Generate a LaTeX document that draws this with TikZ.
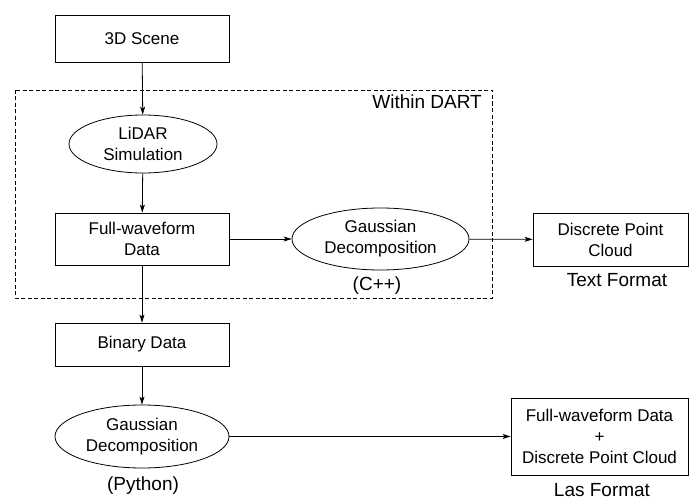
\documentclass[tikz,border=0pt]{standalone}
\usepackage{fontspec}
\setmainfont{Liberation Sans}
\usetikzlibrary{shapes.geometric,arrows.meta}

\tikzset{
  box/.style={draw, rectangle, line width=0.8pt, inner sep=0pt, align=center,
    font=\fontsize{17}{21}\selectfont},
  oval/.style={draw, ellipse, line width=0.8pt, inner sep=0pt, align=center,
    font=\fontsize{17}{21}\selectfont},
  flow/.style={line width=0.8pt, -{Stealth[length=8pt,width=5pt,inset=2pt]}},
  tag/.style={font=\fontsize{19}{23}\selectfont, inner sep=0pt}
}

\begin{document}
\begin{tikzpicture}[x=1pt, y=-1pt]
   \useasboundingbox (0,0) rectangle (689,500);
   \draw[line width=0.7pt, dash pattern=on 4pt off 2.5pt] (15,90) rectangle (492,298);
   \node (dart) [tag, anchor=north east] at (482,95) {Within DART};

   \node (scene) [box, minimum width=174pt, minimum height=47pt] at (142,38.5) {3D Scene};
   \node (lidar) [oval, minimum width=148pt, minimum height=58pt] at (143,144) {LiDAR\\Simulation};
   \node (fwd) [box, minimum width=174pt, minimum height=52pt] at (142,239) {Full-waveform\\Data};
   \node (gcpp) [oval, minimum width=177pt, minimum height=62pt] at (380.5,239) {Gaussian\\Decomposition};
   \node (cpp) [tag] at (377,286) {(C++)};
   \node (dpc) [box, minimum width=155pt, minimum height=53pt] at (610.5,239.5) {Discrete Point\\Cloud};
   \node (txt) [tag] at (617,280) {Text Format};
   \node (binary) [box, minimum width=174pt, minimum height=43pt] at (142,344.5) {Binary Data};
   \node (gpy) [oval, minimum width=174pt, minimum height=63pt] at (142,436.5) {Gaussian\\Decomposition};
   \node (py) [tag] at (143,486) {(Python)};
   \node (las) [box, minimum width=177pt, minimum height=77pt] at (599.5,436.5) {Full-waveform Data\\+\\Discrete Point Cloud};
   \node (lasfmt) [tag] at (602,490) {Las Format};

   \draw[flow] (scene) -- (lidar);
   \draw[flow] (lidar) -- (fwd);
   \draw[flow] (fwd) -- (gcpp);
   \draw[flow] (gcpp) -- (dpc);
   \draw[flow] (fwd) -- (binary);
   \draw[flow] (binary) -- (gpy);
   \draw[flow] (gpy) -- (las);
\end{tikzpicture}
\end{document}
